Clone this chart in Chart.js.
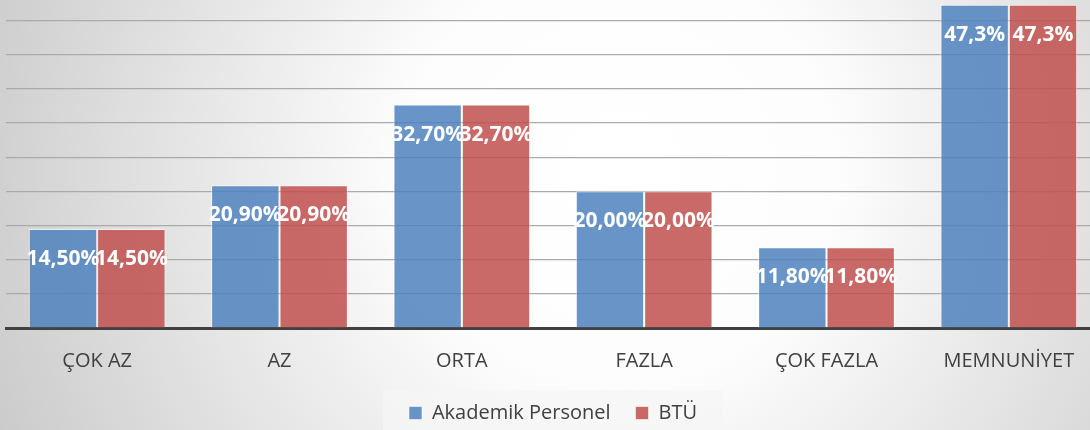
<!DOCTYPE html>
<html>
<head>
<meta charset="utf-8">
<script src="https://cdn.jsdelivr.net/npm/chart.js@4"></script>
<style>
  html, body { margin: 0; padding: 0; background: #fff; overflow: hidden; }
  .chart-wrap { width: 1100px; height: 433px; position: relative; }
</style>
</head>
<body>
<div class="chart-wrap"><canvas id="chart-main"></canvas></div>
<script>
const CATEGORIES = ['ÇOK AZ', 'AZ', 'ORTA', 'FAZLA', 'ÇOK FAZLA', 'MEMNUNİYET']
const AKADEMIK   = [14.5, 20.9, 32.7, 20.0, 11.8, 47.3]
const BTU        = [14.5, 20.9, 32.7, 20.0, 11.8, 47.3]
const AKADEMIK_LABELS = ['14,50%', '20,90%', '32,70%', '20,00%', '11,80%', '47,3%']
const BTU_LABELS      = ['14,50%', '20,90%', '32,70%', '20,00%', '11,80%', '47,3%']

const FONT = '"Open Sans", "Noto Sans", sans-serif'

// soft radial background + lighter legend box
const bgPlugin = {
  id: 'bg',
  beforeDraw(chart) {
    const { ctx, width, height } = chart
    ctx.save()
    const g = ctx.createRadialGradient(620, 170, 0, 620, 170, 720)
    g.addColorStop(0, '#ffffff')
    g.addColorStop(0.3, '#fdfdfd')
    g.addColorStop(1, '#c6c6c6')
    ctx.fillStyle = g
    ctx.fillRect(0, 0, width, height)
    const boxes = chart.legend && chart.legend.legendHitBoxes
    if (boxes && boxes.length) {
      const l = Math.min(...boxes.map(b => b.left)) - 26
      const r = Math.max(...boxes.map(b => b.left + b.width)) + 26
      ctx.fillStyle = 'rgba(245,245,245,0.75)'
      ctx.fillRect(l, 390, r - l, height - 390)
    }
    ctx.restore()
  }
}

// white value labels near the top of every bar
const valueLabels = {
  id: 'valueLabels',
  afterDatasetsDraw(chart) {
    const { ctx } = chart
    const texts = [AKADEMIK_LABELS, BTU_LABELS]
    ctx.save()
    ctx.font = `bold 21px ${FONT}`
    ctx.fillStyle = '#ffffff'
    ctx.textAlign = 'center'
    ctx.textBaseline = 'middle'
    chart.data.datasets.forEach((ds, i) => {
      chart.getDatasetMeta(i).data.forEach((bar, j) => {
        ctx.fillText(texts[i][j], bar.x, bar.y + 30)
      })
    })
    ctx.restore()
  }
}

new Chart(document.getElementById('chart-main').getContext('2d'), {
  type: 'bar',
  data: {
    labels: CATEGORIES,
    datasets: [
      { label: 'Akademik Personel', data: AKADEMIK, backgroundColor: 'rgba(79,129,189,0.85)',
        borderColor: 'rgba(255,255,255,0.55)', borderWidth: 1 },
      { label: 'BTÜ', data: BTU, backgroundColor: 'rgba(192,80,77,0.85)',
        borderColor: 'rgba(255,255,255,0.55)', borderWidth: 1 }
    ]
  },
  options: {
    responsive: true,
    maintainAspectRatio: false,
    animation: false,
    layout: { padding: { left: 6, right: 0, top: 0, bottom: 0 } },
    datasets: { bar: { categoryPercentage: 0.75, barPercentage: 1 } },
    plugins: {
      legend: {
        position: 'bottom',
        labels: { font: { family: FONT, size: 20 }, color: '#404040', boxWidth: 13, boxHeight: 13, padding: 25 }
      },
      tooltip: { enabled: false }
    },
    scales: {
      x: {
        grid: { display: false },
        border: { display: true, color: '#404040', width: 3 },
        ticks: { font: { family: FONT, size: 20 }, color: '#404040', padding: 13, maxRotation: 0 },
        afterFit: s => { s.height = 50 }
      },
      y: {
        min: 0,
        max: 48,
        border: { display: false },
        ticks: { display: false, stepSize: 5 },
        grid: { drawTicks: false, color: c => c.tick.value % 5 === 0 ? '#aaaaaa' : 'transparent', lineWidth: 1.2 }
      }
    }
  },
  plugins: [bgPlugin, valueLabels]
})
</script>
</body>
</html>
